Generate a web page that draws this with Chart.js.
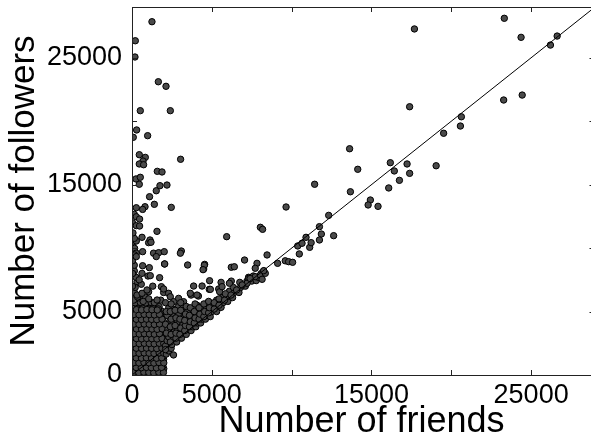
<!DOCTYPE html>
<html>
<head>
<meta charset="utf-8">
<script src="https://cdn.jsdelivr.net/npm/chart.js@4.4.1/dist/chart.umd.min.js"></script>
<style>
  html, body { margin: 0; padding: 0; background: #fff; overflow: hidden; }
  #scatter { display: block; }
</style>
</head>
<body>
<canvas id="scatter" width="591" height="439"></canvas>
<script>
const tickValues = [0, 5000, 10000, 15000, 20000, 25000];
const xTickLabels = [0, 5000, 15000, 25000];
const yTickLabels = [0, 5000, 15000, 25000];
// the original figure is cut just before its right spine
const xMax = 28750;
const yMax = 29000;
const diagonal = [0, 29000];

// dense block of accounts under the 2000-friends limit
const coreCluster = [
  [40,120],[330,90],[650,150],[960,100],[1270,130],[1590,80],[1880,140],
  [180,470],[490,520],[800,450],[1110,500],[1430,530],[1740,460],[1990,500],
  [30,880],[340,840],[660,900],[970,860],[1280,830],[1600,890],[1900,850],
  [170,1220],[500,1270],[810,1230],[1120,1250],[1440,1210],[1750,1260],[1980,1230],
  [40,1640],[350,1600],[670,1650],[980,1610],[1300,1630],[1610,1590],[1900,1640],
  [190,1990],[510,2030],[820,1980],[1140,2020],[1450,2000],[1770,2040],[1990,1970],
  [50,2400],[360,2360],[680,2410],[990,2370],[1310,2390],[1620,2350],[1920,2400],
  [200,2740],[520,2780],[830,2750],[1150,2790],[1460,2760],[1780,2730],[1990,2770],
  [60,3160],[370,3120],[690,3150],[1000,3130],[1320,3170],[1630,3110],[1930,3150],
  [210,3500],[530,3540],[850,3510],[1170,3550],[1480,3520],[1800,3490],[1990,3530],
  [40,3920],[360,3880],[680,3910],[1000,3890],[1310,3930],[1640,3870],[1940,3900],
  [190,4270],[510,4300],[830,4260],[1150,4310],[1470,4280],[1790,4250],
  [50,4680],[370,4640],[690,4670],[1010,4650],[1330,4690],[1650,4630],[1960,4670],
  [210,5020],[530,5060],[850,5030],[1170,5070],[1500,5010],[1840,5050],
  [60,5440],[380,5400],[700,5430],[1020,5410],[1360,5450],[1700,5390]
];

// second, offset layer of the same block
const coreFill = [
  [180,310],[500,280],[820,320],[1130,290],[1450,300],[1760,330],
  [30,690],[340,660],[660,700],[980,670],[1290,690],[1600,650],[1930,700],
  [190,1050],[510,1080],[830,1040],[1140,1070],[1460,1060],[1780,1030],
  [50,1450],[360,1420],[680,1460],[990,1430],[1300,1440],[1620,1410],[1950,1450],
  [200,1810],[520,1840],[840,1800],[1150,1830],[1470,1820],[1790,1850],
  [40,2210],[350,2180],[670,2220],[990,2190],[1300,2200],[1630,2170],[1960,2210],
  [180,2570],[500,2600],[820,2560],[1140,2590],[1450,2580],[1770,2550],
  [50,2970],[360,2940],[680,2980],[1000,2950],[1310,2960],[1640,2930],[1960,2970],
  [190,3330],[510,3360],[830,3320],[1150,3350],[1470,3340],[1790,3310],
  [40,3730],[350,3700],[670,3740],[990,3710],[1300,3720],[1620,3690],[1950,3730],
  [200,4090],[520,4120],[840,4080],[1160,4110],[1480,4100],[1800,4070],
  [50,4490],[360,4460],[680,4500],[1000,4470],[1310,4480],[1630,4450],[1940,4490],
  [190,4850],[510,4880],[830,4840],[1150,4870],[1470,4860],[1790,4830],
  [40,5250],[350,5220],[670,5260],[990,5230],[1310,5240],[1650,5210],
  [200,5690],[520,5720],[860,5680],[1200,5710],
  [60,6120],[450,6080],[850,6110]
];

// third layer, fills the gaps so the block reads almost black
const coreExtra = [
  [110,210],[420,190],[740,220],[1050,200],[1360,180],[1680,220],[1970,200],
  [260,590],[580,570],[900,600],[1210,580],[1530,560],[1850,600],
  [110,970],[430,950],[750,980],[1060,960],[1370,940],[1690,980],[1990,960],
  [260,1350],[590,1330],[900,1360],[1220,1340],[1540,1320],[1860,1360],
  [120,1730],[440,1710],[760,1740],[1070,1720],[1380,1700],[1700,1740],[1990,1720],
  [270,2110],[600,2090],[910,2120],[1230,2100],[1550,2080],[1870,2120],
  [120,2490],[450,2470],[770,2500],[1080,2480],[1390,2460],[1710,2500],[1990,2480],
  [280,2870],[600,2850],[920,2880],[1240,2860],[1560,2840],[1880,2880],
  [130,3250],[450,3230],[770,3260],[1090,3240],[1400,3220],[1720,3260],
  [280,3630],[600,3610],[930,3640],[1250,3620],[1570,3600],[1890,3640],
  [120,4010],[440,3990],[760,4020],[1080,4000],[1400,3980],[1720,4020],
  [270,4390],[590,4370],[910,4400],[1230,4380],[1550,4360],[1880,4400],
  [120,4770],[440,4750],[760,4780],[1080,4760],[1400,4740],[1720,4780],
  [280,5150],[600,5130],[930,5160],[1250,5140],[1580,5120]
];

// few friends, many followers
const leftColumn = [
  [100,5900],[350,6150],[700,5800],[1050,6000],[1400,5700],[1800,5900],
  [150,6500],[313,6300],[627,6440],[1040,6560],[1570,5910],[1840,6960],[1980,6500],
  [313,7350],[583,7150],[940,6700],[200,6900],[1300,7000],[30,7000],
  [144,8200],[627,8010],[1000,7800],[1730,7670],[250,7700],[450,7500],[40,8000],
  [144,8650],[665,8610],[1085,8460],[2040,8750],[1146,7830],[30,9000],
  [163,9980],[270,9600],[665,9720],[1350,9600],[1670,9640],[2020,9720],[1520,9330],[163,9460],[270,9330],
  [100,10500],[1040,10430],[163,10690],[270,10560],[627,10850],[1128,10640],[1190,10460],[144,10770],[1565,11320],
  [60,11200],[30,12000],[144,12660],[270,12470],[476,12290],[270,11770],[476,11740],
  [1400,13450],[815,13260],[665,13050],[270,13180],[2460,13210],
  [1100,14050],[1520,14520],[250,15450],[520,15580],[457,15030],[1750,14920],[2190,14970],[1585,16050],[1880,16000],
  [457,17360],[833,17150],[690,16860],[457,16630],[727,16570],[3045,17000],
  [290,19310],[80,18730],[980,18860],[520,20830],[2400,20830],[1650,23110],[2130,22750],
  [207,26340],[186,25060],[1250,27840]
];

// wedge hugging the diagonal past 2000 friends
const wedge = [
  [2150,1650],[2300,1900],[2450,2100],[2600,1580],
  [2100,2300],[2200,2700],[2300,3000],[2250,3600],[2350,4200],[2200,4700],[2300,5300],
  [2500,2400],[2600,2800],[2650,3400],[2550,4000],[2600,4600],[2610,5180],
  [2800,2600],[2900,3000],[2850,3600],[2950,4200],[2900,4800],[2920,5400],
  [3100,2900],[3200,3300],[3150,3900],[3250,4500],[3230,5000],[3190,5520],[3230,5780],
  [3400,3200],[3500,3600],[3450,4100],[3550,4600],[3480,5100],
  [3700,3500],[3800,3800],[3750,4300],[3850,4800],
  [4000,3800],[4100,4100],[4050,4600],[4150,5100],[4070,5500],
  [4300,4100],[4400,4400],[4350,4900],[4450,5400],
  [4600,4400],[4700,4700],[4650,5200],[4750,5700],
  [4900,4600],[5000,5000],[5050,5500],
  [5300,5000],[5350,5400],[5300,5900],
  [5580,5330],[5530,5780],[5700,5700],[5650,6100],
  [6000,5800],[6050,6200],[6100,6600],
  [6300,6100],[6400,6500],[6350,6900],
  [6700,6500],[6800,6900],[6750,7300],
  [7100,7000],[7200,7400],[7300,7700],
  [7500,7400],[7600,7800],[7780,7440],
  [7900,7700],[8100,8000],[8250,8200],
  [4860,7430],[4840,6750],[5580,7300],[5430,6780],[6220,7400],[6100,7230],
  [3860,7010],[3700,6300],[4160,6220],[2290,6440],[2400,6170],[1980,6780],[2610,5780],[2920,6040],[3650,6440],[4070,6300],
  [4390,7010],[4910,6750],[5490,6560],[5640,6960],
  [7310,7620],[7210,7230],[7720,7750],[8040,7880],[8350,8010],[8150,7540],
  [2100,2000],[2150,3300],[2100,4000],[2150,5000],[2100,5700],
  [2400,2600],[2450,3200],[2400,3800],[2450,4400],[2400,5000],[2450,5600],
  [2750,2900],[2750,3300],[2700,3900],[2750,4500],[2700,5100],
  [3000,3200],[3050,3700],[3000,4400],[3050,5100],[3050,5700],
  [3300,3500],[3350,3900],[3300,4300],[3350,4800],[3400,5400],
  [3600,3800],[3650,4200],[3600,4700],[3650,5300],
  [3900,4100],[3950,4500],[3900,5000],[3950,5600],
  [4200,4400],[4250,4800],[4200,5300],
  [4500,4600],[4550,5000],[4500,5600],
  [4800,4900],[4850,5300],[4800,5800],
  [5150,5200],[5150,5700],[5450,5500],[5450,6000],[5800,5900],[5850,6400],
  [6200,6300],[6550,6700],[6900,7100],[7400,7600]
];

// sparse accounts further out
const outliers = [
  [3090,9770],[3485,8670],[4490,8350],[4550,8720],[2045,8750],[4530,8650],[4450,8300],[3030,9600],
  [6220,8490],[6410,8530],[7050,9060],[7830,8800],[7720,8410],[8250,8220],[8460,9460],
  [9120,8800],[9600,9000],[9810,8930],[10060,8880],[10480,9540],[10380,10170],[10650,10380],
  [10900,10850],[11130,10060],[11220,10430],[11740,11690],[11860,11110],[11740,10640],
  [12320,12580],[12630,10980],[5930,10900],[8040,11640],[8180,11480],[9650,13240],
  [11440,15030],[13630,17830],[13680,14440],[14140,16210],
  [16180,16730],[17230,16630],[16430,16080],[17390,15890],[16750,15340],[16080,14740],
  [14930,13790],[14790,13400],[15410,13290],[19050,16490],
  [20630,20350],[20570,19620],[19520,19050],[17390,21140],[17690,27270],
  [23320,28110],[24370,26610],[26630,26710],[26210,26000],[23280,21670],[24440,22060]
];

const points = [...coreCluster, ...coreFill, ...coreExtra, ...leftColumn, ...wedge, ...outliers]
  .map(p => ({ x: p[0], y: p[1] }));

const tickFont = { family: 'Liberation Sans, Arial, sans-serif', size: 27 };
const xTitleFont = { family: 'Liberation Sans, Arial, sans-serif', size: 36, lineHeight: 0.8 };
const yTitleFont = { family: 'Liberation Sans, Arial, sans-serif', size: 35, lineHeight: 1 };

// matplotlib style frame with inward ticks; the right spine itself is cut off
const framePlugin = {
  id: 'frame',
  afterDraw(chart) {
    const { ctx, chartArea: a, scales: { x, y } } = chart;
    ctx.save();
    ctx.strokeStyle = '#222';
    ctx.lineWidth = 1;
    ctx.beginPath();
    ctx.moveTo(a.right, a.top + 0.5); ctx.lineTo(a.left + 0.5, a.top + 0.5);
    ctx.lineTo(a.left + 0.5, a.bottom + 0.5); ctx.lineTo(a.right, a.bottom + 0.5);
    x.ticks.forEach(t => {
      const px = Math.round(x.getPixelForValue(t.value)) + 0.5;
      ctx.moveTo(px, a.bottom); ctx.lineTo(px, a.bottom - 5);
      ctx.moveTo(px, a.top); ctx.lineTo(px, a.top + 5);
    });
    y.ticks.forEach(t => {
      const py = Math.round(y.getPixelForValue(t.value)) + 0.5;
      ctx.moveTo(a.left, py); ctx.lineTo(a.left + 5, py);
      ctx.moveTo(a.right, py); ctx.lineTo(a.right - 1.5, py);
    });
    ctx.stroke();
    ctx.restore();
  }
};

const fixedTicks = scale => { scale.ticks = tickValues.map(v => ({ value: v })); };

new Chart(document.getElementById('scatter'), {
  type: 'scatter',
  data: {
    datasets: [
      {
        type: 'line',
        data: diagonal.map(v => ({ x: v, y: v })),
        borderColor: '#000',
        borderWidth: 1,
        pointRadius: 0,
        order: 0
      },
      {
        data: points,
        backgroundColor: '#4a4a4a',
        borderColor: '#000',
        borderWidth: 1,
        pointRadius: 3.2,
        order: 1
      }
    ]
  },
  options: {
    responsive: false,
    animation: false,
    devicePixelRatio: 1,
    layout: { autoPadding: false, padding: { top: 7, right: 0, bottom: 0, left: 0 } },
    plugins: { legend: { display: false }, tooltip: { enabled: false } },
    scales: {
      x: {
        type: 'linear',
        min: 0,
        max: xMax,
        grid: { display: false, drawTicks: false },
        border: { display: false },
        afterBuildTicks: fixedTicks,
        afterFit: scale => { scale.height = 64; scale.paddingLeft = 0; scale.paddingRight = 0; },
        ticks: {
          autoSkip: false,
          maxRotation: 0,
          padding: 4,
          color: '#000',
          font: tickFont,
          callback: v => xTickLabels.includes(v) ? String(v) : ''
        },
        title: { display: true, text: 'Number of friends', color: '#000', font: xTitleFont, padding: { top: 0, bottom: 3 } }
      },
      y: {
        type: 'linear',
        min: 0,
        max: yMax,
        grid: { display: false, drawTicks: false },
        border: { display: false },
        afterBuildTicks: fixedTicks,
        afterFit: scale => { scale.width = 132; scale.paddingTop = 0; scale.paddingBottom = 0; },
        ticks: {
          autoSkip: false,
          padding: 10,
          color: '#000',
          font: tickFont,
          callback: v => yTickLabels.includes(v) ? String(v) : ''
        },
        title: { display: true, text: 'Number of followers', color: '#000', font: yTitleFont, padding: { top: 7, bottom: 0 } }
      }
    }
  },
  plugins: [framePlugin]
});
</script>
</body>
</html>
